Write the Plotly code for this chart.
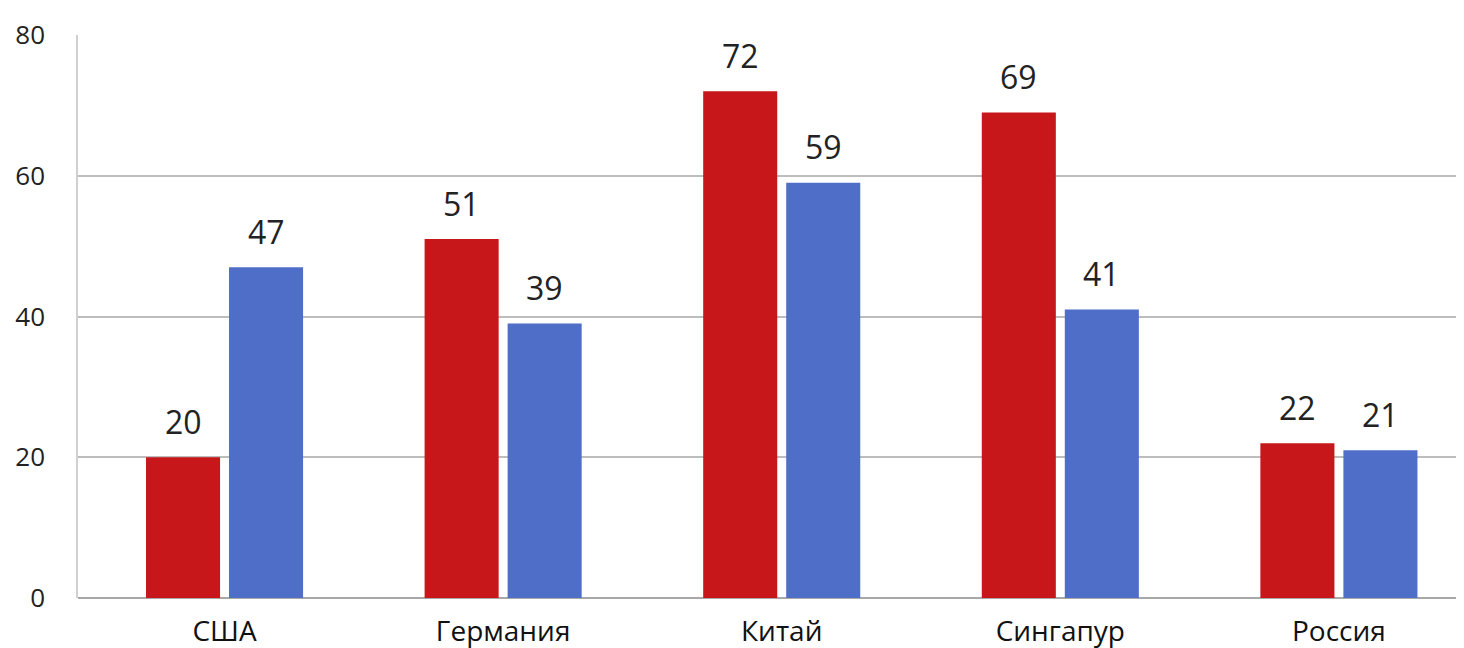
import plotly.graph_objects as go

categories = ["США", "Германия", "Китай", "Сингапур", "Россия"]
red_values = [20, 51, 72, 69, 22]
blue_values = [47, 39, 59, 41, 21]
y_ticks = [0, 20, 40, 60, 80]

RED = "#C8171B"
BLUE = "#4F6EC8"
FONT = "Open Sans"

fig = go.Figure()
fig.add_trace(go.Bar(x=categories, y=red_values, marker_color=RED, marker_line_width=0))
fig.add_trace(go.Bar(x=categories, y=blue_values, marker_color=BLUE, marker_line_width=0))

# value labels above the bars
for series, shift in ((red_values, -41.5), (blue_values, 41.5)):
    for cat, v in zip(categories, series):
        fig.add_annotation(
            x=cat, y=v, xref="x", yref="y", text=str(v), showarrow=False,
            xshift=shift, yshift=36, yanchor="middle",
            font=dict(family=FONT, size=32, color="#222222"),
        )

fig.update_layout(
    width=1456, height=640,
    margin=dict(l=70, r=0, t=27, b=50),
    paper_bgcolor="white", plot_bgcolor="white",
    barmode="group", bargap=0.404, bargroupgap=0.108,
    showlegend=False,
    font=dict(family=FONT, color="#222222"),
)
fig.update_xaxes(
    range=[-0.526, 4.449],
    tickfont=dict(family=FONT, size=28, color="#111111"),
    showgrid=False, showline=False, ticks="", ticklabelstandoff=14,
)
fig.update_yaxes(
    range=[0, 80], tickvals=y_ticks,
    tickfont=dict(family=FONT, size=26, color="#222222"),
    showgrid=True, gridcolor="#BDBDBD", gridwidth=1.5,
    zeroline=True, zerolinecolor="#A8A8A8", zerolinewidth=2,
    showline=True, linecolor="#D0D0D0", linewidth=1.5,
    ticks="", ticklabelstandoff=26,
)

fig.write_html("out.html")
